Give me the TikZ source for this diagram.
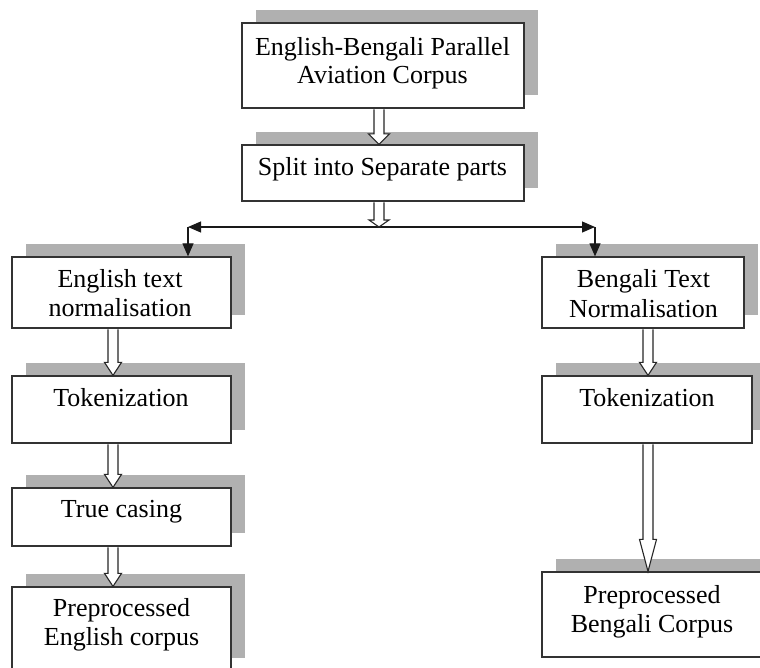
\documentclass[tikz,border=0pt]{standalone}
\usepackage{fontspec}
\setmainfont{Liberation Serif}
\usetikzlibrary{calc,shadows,arrows.meta}
\newcommand{\hollowarr}[4]{%
  \draw[hollow] ($#1+(-5,0.7)$) -- ($#2+(-5,-#4)$) -- ($#2+(-#3,-#4)$) -- #2 -- ($#2+(#3,-#4)$) -- ($#2+(5,-#4)$) -- ($#1+(5,0.7)$);}
\begin{document}
\begin{tikzpicture}[x=1pt,y=-1pt,
  box/.style={draw=black!80, line width=1.2pt, fill=white, inner sep=0pt,
    drop shadow={shadow xshift=14pt, shadow yshift=13pt, fill=black!31, opacity=1}},
  lbl/.style={anchor=base, inner sep=0pt, font=\fontsize{26}{28}\selectfont},
  hollow/.style={draw=black!85, line width=1.1pt, fill=white, line join=miter},
  blk/.style={draw=black!90, line width=1.1pt},
  tip/.style={-{Triangle[length=13pt,width=11pt]}}
]
\useasboundingbox (0,0) rectangle (760,667);
\clip (0,0) rectangle (760,667);

% boxes
\node[box, minimum width=282pt, minimum height=85pt] (b1) at (383,65.5) {};
\node[box, minimum width=282pt, minimum height=56pt] (b2) at (383,173) {};
\node[box, minimum width=219pt, minimum height=71pt] (etn) at (121.5,292.5) {};
\node[box, minimum width=202pt, minimum height=71pt] (btn) at (643,292.5) {};
\node[box, minimum width=219pt, minimum height=67pt] (ltok) at (121.5,409.5) {};
\node[box, minimum width=210pt, minimum height=67pt] (rtok) at (647,409.5) {};
\node[box, minimum width=219pt, minimum height=58pt] (tc) at (121.5,517) {};
\node[box, minimum width=219pt, minimum height=84pt] (pe) at (121.5,629) {};
\node[box, minimum width=220pt, minimum height=85pt] (pb) at (652,614.5) {};

% texts
\node[lbl] (t1a) at (382.5,55) {English-Bengali Parallel};
\node[lbl] (t1b) at (382.5,83) {Aviation Corpus};
\node[lbl] (t2) at (382.5,175) {Split into Separate parts};
\node[lbl] (t3a) at (120,287) {English text};
\node[lbl] (t3b) at (120,316) {normalisation};
\node[lbl] (t4a) at (643.5,287) {Bengali Text};
\node[lbl] (t4b) at (643.5,317) {Normalisation};
\node[lbl] (t5) at (121,406) {Tokenization};
\node[lbl] (t6) at (647,406) {Tokenization};
\node[lbl] (t7) at (121.5,517) {True casing};
\node[lbl] (t8a) at (121.5,616) {Preprocessed};
\node[lbl] (t8b) at (121.5,645) {English corpus};
\node[lbl] (t9a) at (652,603) {Preprocessed};
\node[lbl] (t9b) at (652,632) {Bengali Corpus};

% columns and junctions
\coordinate (cM) at (379,0);
\coordinate (cL) at (113,0);
\coordinate (cR) at (648,0);
\coordinate (hM) at (379,227);
\coordinate (hL) at (188,227);
\coordinate (hR) at (595,227);

% black split connectors
\draw[blk, {Triangle[length=13pt,width=11pt]}-{Triangle[length=13pt,width=11pt]}] (hL) -- (hR);
\draw[blk, tip] (hL) -- (etn.north -| hL);
\draw[blk, tip] (hR) -- (btn.north -| hR);

% hollow arrows
\hollowarr{(b1.south -| cM)}{(b2.north -| cM)}{10.5}{10.5}
\hollowarr{(b2.south -| cM)}{(hM)}{10}{7}
\hollowarr{(etn.south -| cL)}{(ltok.north -| cL)}{8.5}{13}
\hollowarr{(ltok.south -| cL)}{(tc.north -| cL)}{8.5}{13}
\hollowarr{(tc.south -| cL)}{(pe.north -| cL)}{8.5}{13}
\hollowarr{(btn.south -| cR)}{(rtok.north -| cR)}{8.5}{13}
\hollowarr{(rtok.south -| cR)}{(pb.north -| cR)}{8.5}{32}
\end{tikzpicture}
\end{document}
